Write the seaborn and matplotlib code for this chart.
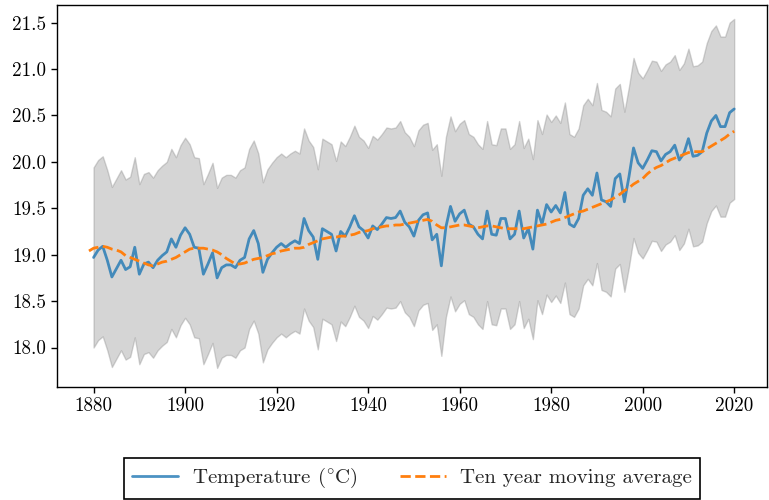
import numpy as np
import pandas as pd
import matplotlib
matplotlib.use("Agg")
import matplotlib.pyplot as plt
import seaborn as sns

# Annual mean temperature (°C), 1880-2020
years = list(range(1880, 2021))
temperature = [
    18.97, 19.05, 19.09, 18.94, 18.76, 18.85, 18.94, 18.84, 18.87, 19.08,
    18.79, 18.90, 18.92, 18.86, 18.94, 18.99, 19.03, 19.17, 19.08, 19.21,
    19.29, 19.22, 19.08, 19.07, 18.79, 18.90, 19.02, 18.75, 18.86, 18.89,
    18.89, 18.86, 18.94, 18.97, 19.17, 19.26, 19.12, 18.81, 18.95, 19.02,
    19.08, 19.12, 19.08, 19.12, 19.15, 19.12, 19.39, 19.26, 19.19, 18.95,
    19.28, 19.25, 19.22, 19.04, 19.25, 19.20, 19.30, 19.42, 19.30, 19.26,
    19.18, 19.31, 19.27, 19.33, 19.40, 19.39, 19.40, 19.47, 19.35, 19.30,
    19.20, 19.37, 19.43, 19.45, 19.16, 19.22, 18.88, 19.30, 19.52, 19.36,
    19.44, 19.48, 19.33, 19.30, 19.22, 19.17, 19.47, 19.22, 19.21, 19.39,
    19.39, 19.17, 19.22, 19.47, 19.18, 19.28, 19.06, 19.48, 19.33, 19.54,
    19.46, 19.53, 19.45, 19.67, 19.33, 19.30, 19.39, 19.64, 19.71, 19.64,
    19.88, 19.59, 19.57, 19.52, 19.82, 19.87, 19.57, 19.84, 20.15, 19.99,
    19.93, 20.02, 20.12, 20.11, 20.01, 20.08, 20.11, 20.18, 20.02, 20.09,
    20.25, 20.06, 20.07, 20.11, 20.31, 20.44, 20.50, 20.38, 20.38, 20.53,
    20.57,
]

# Ten year moving average, 1879-2020
ma_years = list(range(1879, 2021))
moving_avg = [
    19.04,
    19.07, 19.08, 19.09, 19.08, 19.06, 19.05, 19.03, 18.99, 18.97, 18.95,
    18.93, 18.91, 18.89, 18.88, 18.90, 18.92, 18.93, 18.95, 18.97, 19.00,
    19.03, 19.06, 19.07, 19.07, 19.07, 19.06, 19.05, 19.03, 19.00, 18.96,
    18.93, 18.90, 18.90, 18.91, 18.93, 18.95, 18.96, 18.97, 18.99, 19.01,
    19.02, 19.04, 19.05, 19.06, 19.07, 19.07, 19.08, 19.11, 19.13, 19.15,
    19.17, 19.18, 19.19, 19.19, 19.20, 19.20, 19.21, 19.22, 19.24, 19.25,
    19.26, 19.28, 19.29, 19.30, 19.31, 19.31, 19.32, 19.32, 19.33, 19.34,
    19.35, 19.36, 19.37, 19.38, 19.36, 19.32, 19.29, 19.29, 19.30, 19.31,
    19.32, 19.32, 19.31, 19.30, 19.29, 19.30, 19.31, 19.31, 19.30, 19.29,
    19.28, 19.28, 19.28, 19.28, 19.28, 19.29, 19.30, 19.31, 19.32, 19.33,
    19.35, 19.37, 19.38, 19.40, 19.42, 19.44, 19.46, 19.47, 19.49, 19.51,
    19.53, 19.55, 19.57, 19.59, 19.62, 19.65, 19.69, 19.72, 19.76, 19.79,
    19.82, 19.87, 19.91, 19.94, 19.96, 19.99, 20.02, 20.04, 20.06, 20.08,
    20.10, 20.11, 20.11, 20.11, 20.14, 20.17, 20.20, 20.23, 20.26, 20.30,
    20.33,
]

# Half width of the uncertainty band (°C)
band_half_width = 0.97

x_ticks = [1880, 1900, 1920, 1940, 1960, 1980, 2000, 2020]
y_ticks = [18.0, 18.5, 19.0, 19.5, 20.0, 20.5, 21.0, 21.5]

sns.set_style("ticks")
plt.rcParams.update({
    "font.family": "cmr10",
    "mathtext.fontset": "cm",
    "axes.formatter.use_mathtext": True,
    "font.size": 13.7,
    "axes.edgecolor": "black",
    "axes.linewidth": 1.0,
    "xtick.color": "black",
    "ytick.color": "black",
    "xtick.direction": "out",
    "ytick.direction": "out",
})

temp_df = pd.DataFrame({"year": years, "temp": temperature})
ma_df = pd.DataFrame({"year": ma_years, "avg": moving_avg})

fig = plt.figure(figsize=(7.69, 5.0), dpi=100)
ax = fig.add_axes([56.5 / 769, 1 - 386.5 / 500, (766.7 - 56.5) / 769, (386.5 - 5) / 500])

lower = temp_df["temp"] - band_half_width
upper = temp_df["temp"] + band_half_width
ax.fill_between(temp_df["year"], lower, upper, color="gray", alpha=0.33, lw=1.0, zorder=1)

sns.lineplot(data=temp_df, x="year", y="temp", ax=ax, color="#1f77b4", alpha=0.8,
             lw=2.0, label=r"Temperature ($^{\circ}$C)", zorder=3)
sns.lineplot(data=ma_df, x="year", y="avg", ax=ax, color="#ff7f0e",
             lw=2.0, linestyle="--", label="Ten year moving average", zorder=4)

ax.set_xlim(1871.9, 2027.1)
ax.set_ylim(17.58, 21.69)
ax.set_xticks(x_ticks)
ax.set_yticks(y_ticks)
ax.set_yticklabels([f"{v:.1f}" for v in y_ticks])
ax.set_xticklabels([str(v) for v in x_ticks])
ax.set_xlabel("")
ax.set_ylabel("")
ax.tick_params(length=4, width=1, labelsize=13.7)

handles, labels = ax.get_legend_handles_labels()
ax.get_legend().remove()
leg = fig.legend(handles, labels, loc="upper center", ncol=2,
                 bbox_to_anchor=(412 / 769, 1 - 458 / 500), borderaxespad=0,
                 fancybox=False, edgecolor="black", framealpha=1,
                 handlelength=2.2, columnspacing=2.0, handletextpad=0.7,
                 fontsize=15)
leg.get_frame().set_linewidth(1.2)

fig.savefig("out.png", dpi=100)
